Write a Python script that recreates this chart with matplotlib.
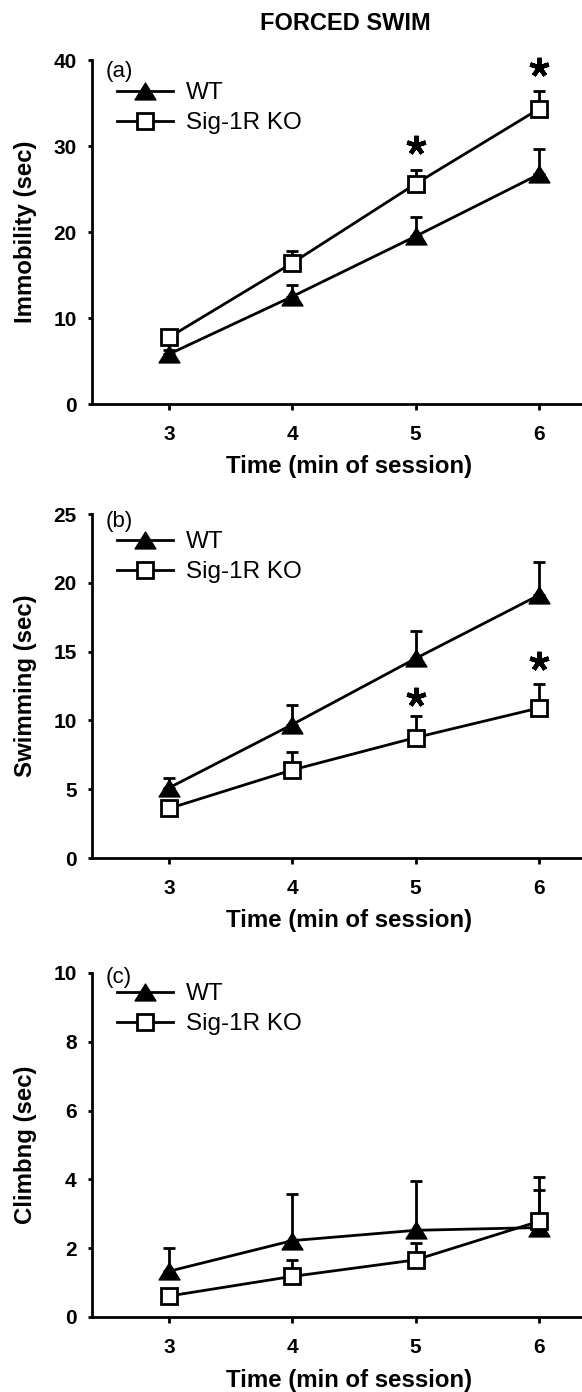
import numpy as np
import matplotlib.pyplot as plt
from matplotlib.path import Path

plt.rcParams['font.family'] = ['Liberation Sans', 'DejaVu Sans']

# Dati
minutes = [3, 4, 5, 6]
tick_labels = ['3', '4', '5', '6']

immob_wt = [5.8, 12.5, 19.5, 26.7]
immob_wt_err = [0.5, 1.3, 2.2, 2.9]
immob_ko = [7.75, 16.4, 25.6, 34.3]
immob_ko_err = [0.6, 1.4, 1.6, 2.1]
immob_star_x = [5, 6]
immob_star_y = [30.1, 39.2]

swim_wt = [5.1, 9.7, 14.5, 19.1]
swim_wt_err = [0.75, 1.45, 2.0, 2.4]
swim_ko = [3.6, 6.4, 8.75, 10.9]
swim_ko_err = [0.4, 1.3, 1.55, 1.75]
swim_star_x = [5, 6]
swim_star_y = [11.7, 14.3]

climb_wt = [1.33, 2.22, 2.52, 2.6]
climb_wt_err = [0.68, 1.35, 1.44, 1.1]
climb_ko = [0.61, 1.18, 1.66, 2.78]
climb_ko_err = [0.2, 0.48, 0.5, 1.3]

triangle = Path([(0, 0.81), (-1, -0.81), (1, -0.81), (0, 0.81)],
                [Path.MOVETO, Path.LINETO, Path.LINETO, Path.CLOSEPOLY])

fig = plt.figure(figsize=(5.82, 13.92), dpi=100)
fig.text(345 / 582, 1 - 23 / 1392, 'FORCED SWIM', ha='center', va='center',
         fontsize=17, fontweight='bold')

panels = [
    # (bottom, ylim, ticks, ylabel, tag, wt, wt_err, ko, ko_err, stars, legend_y, tag_y)
    (1 - 404 / 1392, 40, [0, 10, 20, 30, 40], 'Immobility (sec)', '(a)',
     immob_wt, immob_wt_err, immob_ko, immob_ko_err, (immob_star_x, immob_star_y), 30, 12),
    (1 - 858 / 1392, 25, [0, 5, 10, 15, 20, 25], 'Swimming (sec)', '(b)',
     swim_wt, swim_wt_err, swim_ko, swim_ko_err, (swim_star_x, swim_star_y), 25, 7),
    (1 - 1317 / 1392, 10, [0, 2, 4, 6, 8, 10], 'Climbng (sec)', '(c)',
     climb_wt, climb_wt_err, climb_ko, climb_ko_err, None, 18, 5),
]

ax_h = 344 / 1392
for bottom, ymax, yticks, ylabel, tag, wt, wt_err, ko, ko_err, stars, leg_y, tag_y in panels:
    ax = fig.add_axes([92 / 582, bottom, 490 / 582, ax_h])

    wt_eb = ax.errorbar(minutes, wt, yerr=[np.zeros(4), wt_err], color='black', lw=2,
                        marker=triangle, ms=15, mfc='black', mec='black',
                        capsize=4.3, capthick=2, elinewidth=2, clip_on=False, zorder=3)
    ko_eb = ax.errorbar(minutes, ko, yerr=[np.zeros(4), ko_err], color='black', lw=2,
                        marker='s', ms=11, mfc='white', mec='black', mew=2,
                        capsize=4.3, capthick=2, elinewidth=2, clip_on=False, zorder=4)

    if stars is not None:
        ax.plot(stars[0], stars[1], ls='none', marker=(5, 2, 0), ms=14, mew=3.2,
                color='black', clip_on=False)

    ax.set_xlim(2.375, 6.35)
    ax.set_ylim(0, ymax)
    ax.set_xticks(minutes)
    ax.set_xticklabels(tick_labels)
    ax.set_yticks(yticks)
    for s in ['top', 'right']:
        ax.spines[s].set_visible(False)
    for s in ['left', 'bottom']:
        ax.spines[s].set_linewidth(2)
    ax.tick_params(axis='y', direction='out', length=3, width=2, pad=8, labelsize=15)
    ax.tick_params(axis='x', direction='out', length=4.3, width=2, pad=11, labelsize=15)
    for lab in ax.get_xticklabels() + ax.get_yticklabels():
        lab.set_fontweight('bold')

    ax.set_xlabel('Time (min of session)', fontsize=17.3, fontweight='bold')
    ax.xaxis.set_label_coords(0.5255, -63 / 344)
    ax.xaxis.label.set_va('center')
    ax.set_ylabel(ylabel, fontsize=17.3, fontweight='bold')
    ax.yaxis.set_label_coords(-66 / 490, 0.5)
    ax.yaxis.label.set_va('center')

    ax.text(14 / 490, 1 - tag_y / 344, tag, transform=ax.transAxes,
            ha='left', va='center', fontsize=16)

    ax.legend([wt_eb[0], ko_eb[0]], ['WT', 'Sig-1R KO'],
              loc='upper left', bbox_to_anchor=(25 / 490, 1 - (leg_y - 8) / 344),
              frameon=False, fontsize=17.5, handlelength=2.3, handletextpad=0.55,
              labelspacing=0.33, borderpad=0, borderaxespad=0, numpoints=1)

fig.savefig('out.png', dpi=100)
